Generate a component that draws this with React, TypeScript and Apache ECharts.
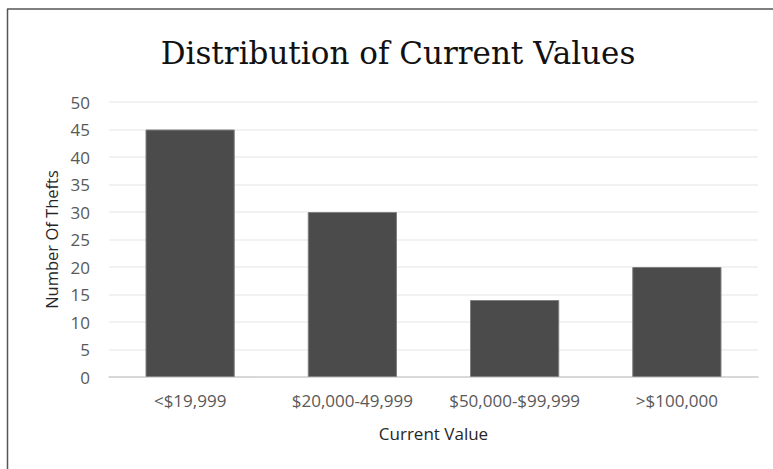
import React, { useEffect, useRef } from "react";
import * as echarts from "echarts";

const categories = ["<$19,999", "$20,000-49,999", "$50,000-$99,999", ">$100,000"];
const thefts = [45, 30, 14, 20];
const titleText = "Distribution of Current Values";
const xName = "Current Value";
const yName = "Number Of Thefts";

export default function App() {
  const ref = useRef<HTMLDivElement>(null);
  useEffect(() => {
    if (!ref.current) return;
    const chart = echarts.init(ref.current, undefined, { renderer: "svg" });
    const sans = "'Open Sans', sans-serif";
    chart.setOption({
      animation: false,
      backgroundColor: "#ffffff",
      title: {
        text: titleText,
        left: 393,
        top: 32,
        textAlign: "center",
        textStyle: {
          fontFamily: "'DejaVu Serif', serif",
          fontSize: 31,
          fontWeight: "normal",
          color: "#111111",
        },
      },
      graphic: [
        { type: "line", shape: { x1: 7, y1: 9, x2: 773, y2: 9 }, style: { stroke: "#555555", lineWidth: 1.5 } },
        { type: "line", shape: { x1: 7.5, y1: 9, x2: 7.5, y2: 469 }, style: { stroke: "#555555", lineWidth: 1.5 } },
      ],
      grid: { left: 109, right: 15, top: 102, bottom: 92 },
      xAxis: {
        type: "category",
        data: categories,
        name: xName,
        nameLocation: "middle",
        nameGap: 48,
        nameTextStyle: { fontFamily: sans, fontSize: 17, color: "#262626" },
        axisLine: { lineStyle: { color: "#d0d0d0", width: 1.5 } },
        axisTick: { show: false },
        axisLabel: { fontFamily: sans, fontSize: 17, color: "#595959", margin: 15, interval: 0 },
      },
      yAxis: {
        type: "value",
        min: 0,
        max: 50,
        interval: 5,
        name: yName,
        nameLocation: "middle",
        nameGap: 47,
        nameRotate: 90,
        nameTextStyle: { fontFamily: sans, fontSize: 16.5, color: "#262626" },
        axisLine: { show: false },
        axisTick: { show: false },
        axisLabel: { fontFamily: sans, fontSize: 17, color: "#595959", margin: 19 },
        splitLine: { lineStyle: { color: "#eeeeee", width: 1.5 } },
      },
      series: [
        {
          type: "bar",
          data: thefts,
          barWidth: "55%",
          itemStyle: { color: "#4b4b4b", borderColor: "#808080", borderWidth: 1 },
        },
      ],
    });
    return () => chart.dispose();
  }, []);
  return (
    <div
      ref={ref}
      style={{ position: "fixed", left: 0, top: 0, width: 773, height: 469 }}
    />
  );
}
